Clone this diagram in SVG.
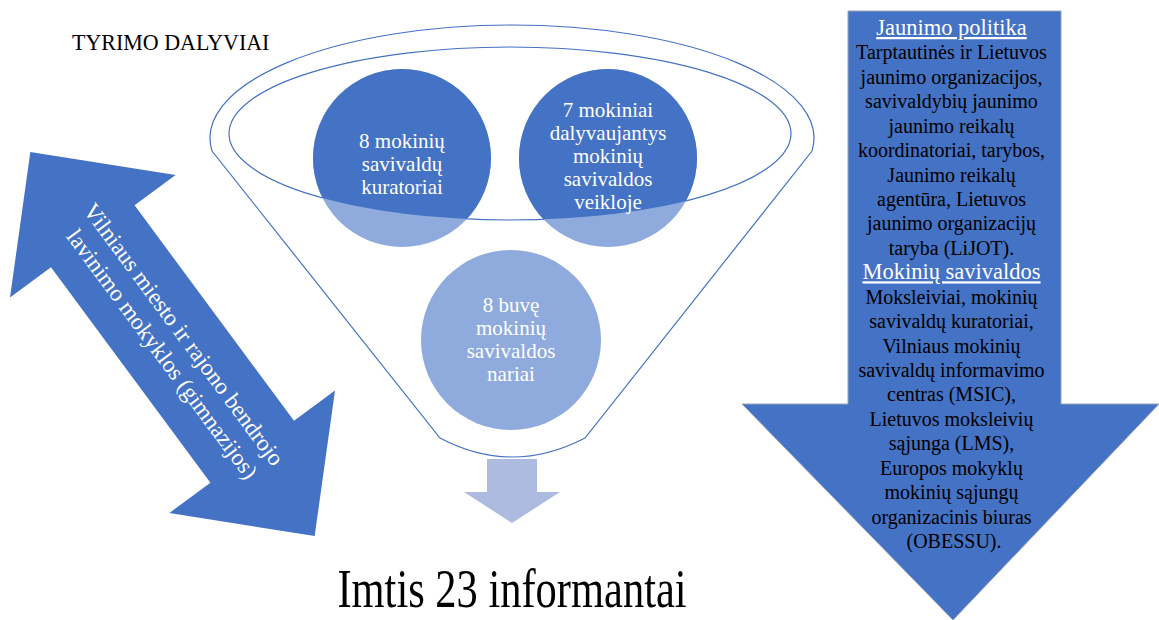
<svg xmlns="http://www.w3.org/2000/svg" width="1159" height="620" viewBox="0 0 1159 620">
<style>
text{font-family:'Liberation Serif','DejaVu Serif','Times New Roman',serif}
.ct{font-size:21px;fill:#fff;text-anchor:middle}
.rt{font-size:20px;fill:#000;text-anchor:middle}
.rh{fill:#fff;text-decoration:underline;font-size:22.5px}
.outline{fill:none;stroke:#4472C4;stroke-width:1.2}
</style>
<defs>
<clipPath id="inner"><ellipse cx="510" cy="133.5" rx="281" ry="86.5"/></clipPath>
</defs>
<rect width="1159" height="620" fill="#fff"/>
<g id="title"><text x="72" y="50" font-size="22" fill="#000" transform="translate(0,50) scale(1,1.08) translate(0,-50)">TYRIMO DALYVIAI</text></g>
<g id="funnel">
<path class="outline" d="M212,151 A302,113 0 1 1 812,151 L585,438 Q512,476 440,438 Z"/>
<ellipse class="outline" cx="510" cy="133.5" rx="281" ry="86.5"/>
</g>
<g id="circle1">
<circle cx="402" cy="158" r="89" fill="#8FAADC"/>
<circle cx="402" cy="158" r="89" fill="#4472C4" clip-path="url(#inner)"/>
<text class="ct" x="402" y="148">8 mokinių</text>
<text class="ct" x="402" y="171">savivaldų</text>
<text class="ct" x="402" y="194">kuratoriai</text>
</g>
<g id="circle2">
<circle cx="608" cy="158" r="89" fill="#8FAADC"/>
<circle cx="608" cy="158" r="89" fill="#4472C4" clip-path="url(#inner)"/>
<text class="ct" x="608" y="117">7 mokiniai</text>
<text class="ct" x="608" y="140">dalyvaujantys</text>
<text class="ct" x="608" y="163">mokinių</text>
<text class="ct" x="608" y="186">savivaldos</text>
<text class="ct" x="608" y="209">veikloje</text>
</g>
<g id="circle3">
<circle cx="511" cy="340" r="90" fill="#8FAADC"/>
<text class="ct" x="511" y="312">8 buvę</text>
<text class="ct" x="511" y="335">mokinių</text>
<text class="ct" x="511" y="358">savivaldos</text>
<text class="ct" x="511" y="381">nariai</text>
</g>
<g id="connectors">
<polygon id="down-arrow" points="487,459 537,459 537,492 560,492 512,523 464,492 487,492" fill="#AEBBE0"/>
</g>
<g id="sample" transform="translate(512,607) scale(1,1.3)"><text x="0" y="0" font-size="42.5" text-anchor="middle" fill="#000">Imtis 23 informantai</text></g>
<g id="schools" transform="translate(172.5,344) rotate(53.5)">
<polygon points="-239,0 -134,-103 -134,-52 134,-52 134,-103 239,0 134,103 134,52 -134,52 -134,103" fill="#4472C4"/>
<text x="-1" y="-7" font-size="23.3" fill="#fff" text-anchor="middle">Vilniaus miesto ir rajono bendrojo</text>
<text x="2" y="22" font-size="23.3" fill="#fff" text-anchor="middle">lavinimo mokyklos (gimnazijos)</text>
</g>
<g id="policy">
<polygon points="848,11 1061,11 1061,404 1159,404 953,620 742,404 848,404" fill="#4472C4" stroke="#98A3B8" stroke-width="1"/>
<text class="rt">
<tspan class="rh" x="954" y="35">Jaunimo politika</tspan>
<tspan x="954" dy="24.43">Tarptautinės ir Lietuvos</tspan>
<tspan x="954" dy="24.43">jaunimo organizacijos,</tspan>
<tspan x="954" dy="24.43">savivaldybių jaunimo</tspan>
<tspan x="954" dy="24.43">jaunimo reikalų</tspan>
<tspan x="954" dy="24.43">koordinatoriai, tarybos,</tspan>
<tspan x="954" dy="24.43">Jaunimo reikalų</tspan>
<tspan x="954" dy="24.43">agentūra, Lietuvos</tspan>
<tspan x="954" dy="24.43">jaunimo organizacijų</tspan>
<tspan x="954" dy="24.43">taryba (LiJOT).</tspan>
<tspan class="rh" x="954" dy="24.43">Mokinių savivaldos</tspan>
<tspan x="954" dy="24.43">Moksleiviai, mokinių</tspan>
<tspan x="954" dy="24.43">savivaldų kuratoriai,</tspan>
<tspan x="954" dy="24.43">Vilniaus mokinių</tspan>
<tspan x="954" dy="24.43">savivaldų informavimo</tspan>
<tspan x="954" dy="24.43">centras (MSIC),</tspan>
<tspan x="954" dy="24.43">Lietuvos moksleivių</tspan>
<tspan x="954" dy="24.43">sąjunga (LMS),</tspan>
<tspan x="954" dy="24.43">Europos mokyklų</tspan>
<tspan x="954" dy="24.43">mokinių sąjungų</tspan>
<tspan x="954" dy="24.43">organizacinis biuras</tspan>
<tspan x="954" dy="24.43">(OBESSU).</tspan>
</text>
</g>
</svg>
